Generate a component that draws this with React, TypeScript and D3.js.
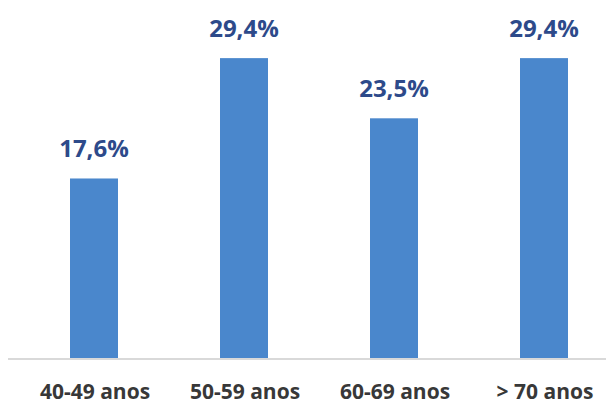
import React from "react";
import * as d3 from "d3";

const categories = ["40-49 anos", "50-59 anos", "60-69 anos", "> 70 anos"];
const values = [17.6, 29.4, 23.5, 29.4];
const valueLabels = ["17,6%", "29,4%", "23,5%", "29,4%"];

const W = 608;
const H = 405;

export default function App() {
  const x = d3
    .scaleBand<string>()
    .domain(categories)
    .range([19, 619])
    .paddingInner(0.68)
    .paddingOuter(0.34);
  const y = d3.scaleLinear().domain([0, 10]).range([358, 256]);

  return (
    <svg
      width={W}
      height={H}
      style={{ position: "absolute", left: 0, top: 0, background: "#fff" }}
    >
      <line x1={8} x2={606} y1={y(0) + 1} y2={y(0) + 1} stroke="#d9d9d9" strokeWidth={2} />
      {categories.map((c, i) => {
        const bx = x(c)!;
        const bw = x.bandwidth();
        const cx = bx + bw / 2;
        return (
          <g key={c}>
            <rect x={bx} y={y(values[i])} width={bw} height={y(0) - y(values[i])} fill="#4a87cc" />
            <text
              x={cx}
              y={y(values[i]) - 21}
              textAnchor="middle"
              fontFamily="'Open Sans', sans-serif"
              fontWeight={700}
              fontSize={24}
              fill="#2d4a8a"
            >
              {valueLabels[i]}
            </text>
            <text
              x={cx + 1}
              y={399}
              textAnchor="middle"
              fontFamily="'Open Sans', sans-serif"
              fontWeight={700}
              fontSize={21}
              fill="#383838"
            >
              {c}
            </text>
          </g>
        );
      })}
    </svg>
  );
}
